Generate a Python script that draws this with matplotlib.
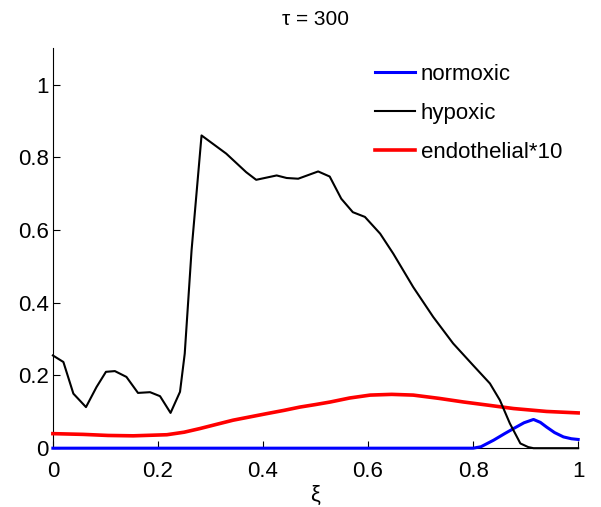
import matplotlib
matplotlib.use("Agg")
import matplotlib.pyplot as plt

plt.rcParams['font.family'] = ['Liberation Sans', 'DejaVu Sans']

# values
xi_hypoxic = [0.0, 0.02, 0.039, 0.063, 0.083, 0.101, 0.118, 0.14, 0.162, 0.185, 0.204,
              0.224, 0.242, 0.251, 0.264, 0.283, 0.33, 0.368, 0.387, 0.426, 0.445, 0.467,
              0.505, 0.527, 0.549, 0.571, 0.594, 0.623, 0.648, 0.686, 0.724, 0.762, 0.80,
              0.832, 0.851, 0.870, 0.89, 0.905, 0.915, 0.95, 1.0]
hypoxic = [0.255, 0.237, 0.150, 0.113, 0.168, 0.21, 0.212, 0.196, 0.152, 0.154, 0.143,
           0.097, 0.155, 0.26, 0.544, 0.86, 0.81, 0.759, 0.738, 0.75, 0.743, 0.741,
           0.761, 0.747, 0.686, 0.649, 0.636, 0.59, 0.535, 0.443, 0.361, 0.288, 0.228,
           0.178, 0.132, 0.068, 0.013, 0.003, 0.0, 0.0, 0.0]

xi_normoxic = [0.0, 0.5, 0.80, 0.815, 0.839, 0.86, 0.877, 0.897, 0.915, 0.928, 0.94,
               0.955, 0.972, 0.987, 1.0]
normoxic = [0.0, 0.0, 0.0, 0.004, 0.022, 0.040, 0.054, 0.070, 0.079, 0.071, 0.058,
            0.043, 0.031, 0.026, 0.024]

xi_endo = [0.0, 0.057, 0.105, 0.153, 0.217, 0.25, 0.28, 0.31, 0.343, 0.375, 0.407, 0.44,
           0.47, 0.50, 0.528, 0.565, 0.604, 0.645, 0.686, 0.735, 0.782, 0.83, 0.877,
           0.94, 1.0]
endothelial = [0.040, 0.038, 0.035, 0.034, 0.037, 0.044, 0.054, 0.065, 0.077, 0.086,
               0.095, 0.104, 0.113, 0.120, 0.127, 0.138, 0.146, 0.148, 0.146, 0.137,
               0.127, 0.118, 0.109, 0.101, 0.097]

fig = plt.figure(figsize=(6.01, 5.07), dpi=100)
ax = fig.add_axes([0.088, 0.116, 0.874, 0.789])

ax.plot(xi_normoxic, normoxic, color='#0000ff', lw=2.2, label='normoxic',
        clip_on=False, zorder=3)
ax.plot(xi_hypoxic, hypoxic, color='black', lw=1.5, label='hypoxic',
        clip_on=False, zorder=4)
ax.plot(xi_endo, endothelial, color='#ff0000', lw=2.6, label='endothelial*10',
        clip_on=False, zorder=3)

ax.set_xlim(0, 1)
ax.set_ylim(0, 1.1)
ax.set_xticks([0, 0.2, 0.4, 0.6, 0.8, 1])
ax.set_xticklabels(['0', '0.2', '0.4', '0.6', '0.8', '1'])
ax.set_yticks([0, 0.2, 0.4, 0.6, 0.8, 1])
ax.set_yticklabels(['0', '0.2', '0.4', '0.6', '0.8', '1'])
ax.tick_params(direction='in', length=5, labelsize=16)
ax.tick_params(axis='x', pad=9)
ax.tick_params(axis='y', pad=3)
ax.spines['top'].set_visible(False)
ax.spines['right'].set_visible(False)

ax.set_title('τ = 300', fontsize=15, pad=17)
ax.set_xlabel('ξ', fontsize=16, labelpad=2)

ax.legend(loc='upper left', bbox_to_anchor=(0.613, 0.96), frameon=False,
          fontsize=16, handlelength=1.8, handletextpad=0.27, labelspacing=0.8,
          borderaxespad=0, borderpad=0)

fig.savefig('out.png', dpi=100)
